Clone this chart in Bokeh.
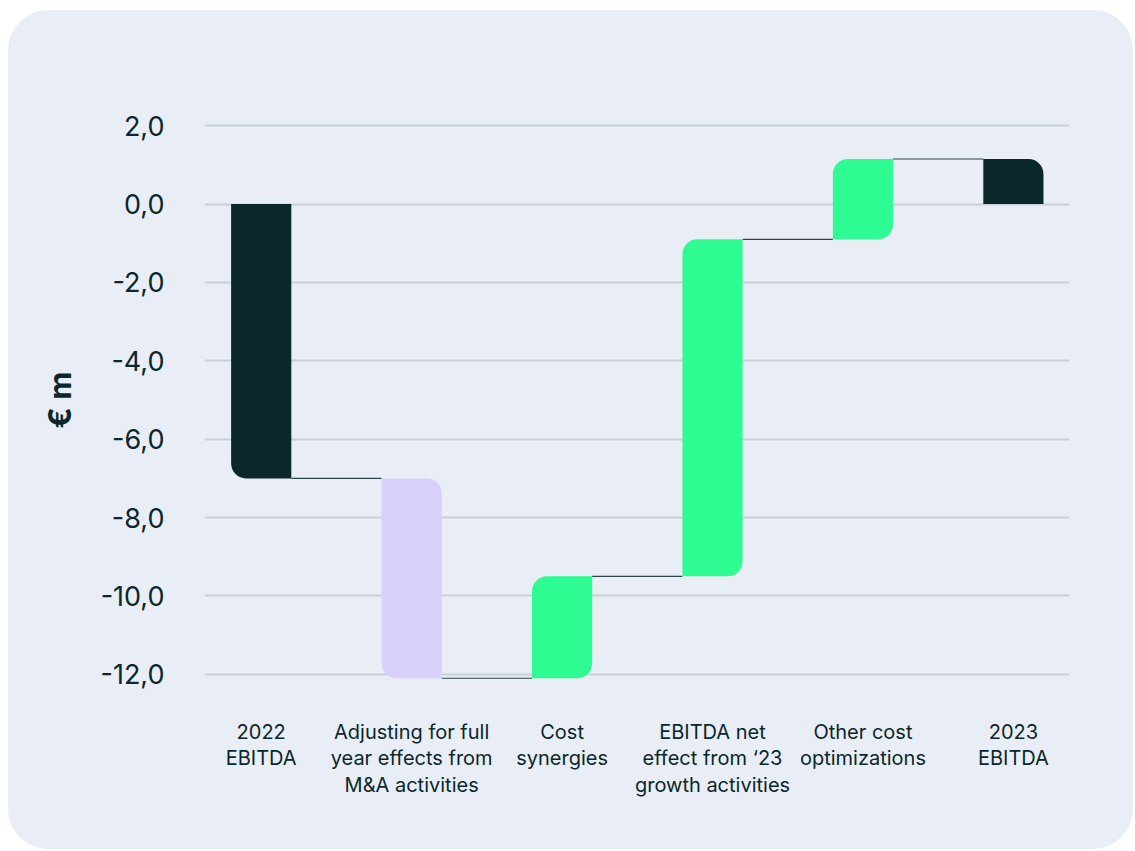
from bokeh.plotting import figure
from bokeh.models import (ColumnDataSource, FixedTicker, CustomJSTickFormatter,
                          CDSView, IndexFilter, Range1d)
from bokeh.embed import file_html
from bokeh.resources import INLINE

# ---- data ----
categories = [
    "2022\nEBITDA",
    "Adjusting for full\nyear effects from\nM&A activities",
    "Cost\nsynergies",
    "EBITDA net\neffect from \u201823\ngrowth activities",
    "Other cost\noptimizations",
    "2023\nEBITDA",
]
step_values = [-7.0, -5.1, 2.6, 8.6, 2.05, 1.15]
is_total = [True, False, False, False, False, True]
y_ticks = [-12, -10, -8, -6, -4, -2, 0, 2]

# ---- styles ----
DARK = "#0a272b"
LAVENDER = "#d7d0fa"
GREEN = "#2efc92"
PANEL = "#e9eef6"
GRID = "#c8cfd8"
FONT = "Inter"
RADIUS = 15
BAR_W = 0.4

# waterfall geometry from the values
xs, starts, ends, colors = [], [], [], []
running = 0.0
for i, (v, tot) in enumerate(zip(step_values, is_total)):
    if tot:
        s, e = 0.0, v
    else:
        s, e = running, running + v
    running = e
    xs.append(i)
    starts.append(s)
    ends.append(e)
    colors.append(DARK if tot else (GREEN if v > 0 else LAVENDER))

src = ColumnDataSource(dict(
    x=xs,
    top=[max(a, b) for a, b in zip(starts, ends)],
    bottom=[min(a, b) for a, b in zip(starts, ends)],
    color=colors,
))

p = figure(width=1125, height=839, output_backend="svg", toolbar_location=None,
           x_range=Range1d(-0.377, 5.373), y_range=Range1d(-13.0, 3.0),
           min_border_left=196, min_border_right=64,
           min_border_top=76, min_border_bottom=136)
p.margin = (10, 0, 0, 8)
p.styles = {"border-radius": "40px", "overflow": "hidden", "background-color": PANEL}
p.background_fill_color = None
p.border_fill_color = None
p.outline_line_color = None

# connectors
cx0, cx1, cy = [], [], []
for i in range(len(xs) - 1):
    cx0.append(xs[i] + BAR_W / 2)
    cx1.append(xs[i + 1] - BAR_W / 2)
    cy.append(ends[i])
p.segment(x0=cx0, x1=cx1, y0=cy, y1=cy, line_color=DARK, line_width=1.2, line_alpha=0.85)

# bars, each with its own rounded corners
n = len(xs)
for i in range(n):
    top = max(starts[i], ends[i])
    bot = min(starts[i], ends[i])
    tl = tr = br = bl = RADIUS
    if is_total[i]:
        if top == 0:
            tl = tr = 0
        if bot == 0:
            bl = br = 0
    if i > 0:
        lvl = ends[i - 1]
        if abs(lvl - top) < 1e-9:
            tl = 0
        if abs(lvl - bot) < 1e-9:
            bl = 0
    if i < n - 1:
        lvl = ends[i]
        if abs(lvl - top) < 1e-9:
            tr = 0
        if abs(lvl - bot) < 1e-9:
            br = 0
    p.vbar(x="x", top="top", bottom="bottom", width=BAR_W, source=src,
           view=CDSView(filter=IndexFilter([i])), fill_color="color",
           line_color=None, border_radius=(tl, tr, br, bl))

# grid
p.xgrid.visible = False
p.ygrid.ticker = FixedTicker(ticks=y_ticks)
p.ygrid.grid_line_color = GRID
p.ygrid.grid_line_width = 2

# y axis
p.yaxis.ticker = FixedTicker(ticks=y_ticks)
p.yaxis.formatter = CustomJSTickFormatter(code="return tick.toFixed(1).replace('.', ',')")
p.yaxis.axis_line_color = None
p.yaxis.major_tick_line_color = None
p.yaxis.minor_tick_line_color = None
p.yaxis.major_label_text_font = FONT
p.yaxis.major_label_text_font_size = "27px"
p.yaxis.major_label_text_color = DARK
p.yaxis.major_label_standoff = 34
p.yaxis.axis_label = "\u20ac m"
p.yaxis.axis_label_text_font = FONT
p.yaxis.axis_label_text_font_size = "31px"
p.yaxis.axis_label_text_font_style = "bold"
p.yaxis.axis_label_text_color = DARK
p.yaxis.axis_label_standoff = 20

# x axis
p.xaxis.ticker = FixedTicker(ticks=xs)
p.xaxis.major_label_overrides = {x: c for x, c in zip(xs, categories)}
p.xaxis.axis_line_color = None
p.xaxis.major_tick_line_color = None
p.xaxis.minor_tick_line_color = None
p.xaxis.major_label_text_font = FONT
p.xaxis.major_label_text_font_size = "20px"
p.xaxis.major_label_text_color = DARK
p.xaxis.major_label_text_line_height = 1.12
p.xaxis.major_label_standoff = 0

open("out.html", "w").write(file_html(p, INLINE))
